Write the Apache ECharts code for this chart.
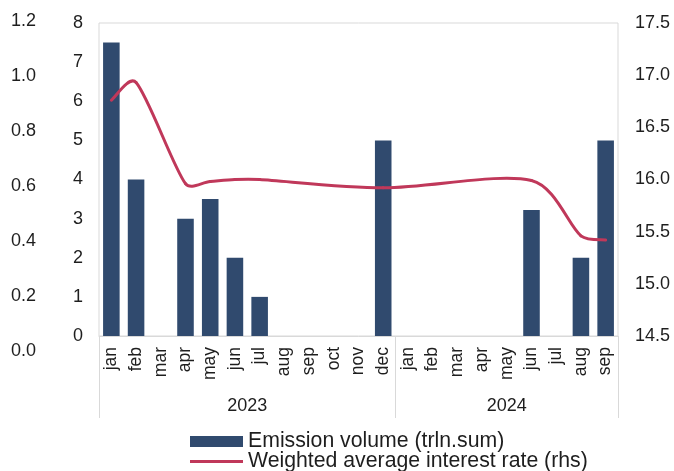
<!DOCTYPE html>
<html>
<head>
<meta charset="utf-8">
<title>Emission volume and weighted average interest rate</title>
<script src="https://cdn.jsdelivr.net/npm/echarts@6/dist/echarts.min.js"></script>
<style>
  html, body { margin: 0; padding: 0; background: #ffffff; }
  #chart { width: 674px; height: 471px; }
</style>
</head>
<body>
<div id="chart"></div>
<script>
// Months by year
const months2023 = ['jan', 'feb', 'mar', 'apr', 'may', 'jun', 'jul', 'aug', 'sep', 'oct', 'nov', 'dec'];
const months2024 = ['jan', 'feb', 'mar', 'apr', 'may', 'jun', 'jul', 'aug', 'sep'];
const years = ['2023', '2024'];

// Emission volume, trln. sum (left axis)
const emissionVolume = [7.5, 4.0, 0, 3.0, 3.5, 2.0, 1.0, 0, 0, 0, 0, 5.0,
                        0, 0, 0, 0, 0, 3.22, 0, 2.0, 5.0];

// Weighted average interest rate, % (right axis); null = no placement that month
const interestRate = [16.76, 16.93, null, 15.96, 15.98, 16.0, 16.0, null, null, null, null, 15.92,
                      null, null, null, null, null, 15.99, null, 15.46, 15.42];

// Tick values of the three value axes
const volumeTicks = { min: 0, max: 8, step: 1 };
const rateTicks = { min: 14.5, max: 17.5, step: 0.5 };
const shareTicks = { min: 0, max: 1.2, step: 0.2 };

const seriesNames = ['Emission volume (trln.sum)', 'Weighted average interest rate (rhs)'];

// Build category list and year groups
const yearMonths = [months2023, months2024];
const categories = [];
const yearOfIndex = [];
const yearGroups = [];
yearMonths.forEach((list, yi) => {
  yearGroups.push({ year: years[yi], start: categories.length, count: list.length });
  list.forEach(m => { categories.push(m); yearOfIndex.push(years[yi]); });
});
const groupStarts = yearGroups.map(g => g.start);

// Rate points that exist, as [categoryIndex, value]
const ratePoints = interestRate.map((v, i) => (v == null ? null : [i, v])).filter(p => p);

const textColor = '#1e1e1e';
const frameColor = '#d9d9d9';
const barColor = '#304a6e';
const lineColor = '#c0385a';
const fontFamily = '"Liberation Sans", Arial, Helvetica, sans-serif';
const gridLeft = 99, gridRight = 56;
const catWidth = (674 - gridLeft - gridRight) / categories.length;

// One legend row per series, stacked
const legendIcons = ['rect', 'path://M0,0H53V3H0Z'];
const legends = seriesNames.map((name, i) => ({
  orient: 'horizontal',
  left: 190,
  top: 431 + i * 20,
  padding: 0,
  itemWidth: 53,
  itemHeight: 11,
  selectedMode: false,
  textStyle: { fontSize: 21.25, lineHeight: 20, color: textColor, fontFamily: fontFamily },
  data: [{ name: name, icon: legendIcons[i] }]
}));

// Smoothed rate line: cubic Bezier segments through each point, with control
// arms of 1/6 of the neighbour span, capped at a third of the segment length.
function renderRateSegment(params, api) {
  const k = params.dataIndex;
  const n = ratePoints.length;
  if (k >= n - 1) return null;
  const P = j => api.coord(ratePoints[Math.max(0, Math.min(n - 1, j))]);
  const p0 = P(k - 1), p1 = P(k), p2 = P(k + 1), p3 = P(k + 2);
  const segLen = Math.hypot(p2[0] - p1[0], p2[1] - p1[1]);
  const arm = (a, b) => {
    let dx = (b[0] - a[0]) / 6, dy = (b[1] - a[1]) / 6;
    const len = Math.hypot(dx, dy), cap = segLen / 3;
    if (len > cap && len > 0) { dx *= cap / len; dy *= cap / len; }
    return [dx, dy];
  };
  const t1 = arm(p0, p2), t2 = arm(p1, p3);
  return {
    type: 'bezierCurve',
    shape: {
      x1: p1[0], y1: p1[1],
      cpx1: p1[0] + t1[0], cpy1: p1[1] + t1[1],
      cpx2: p2[0] - t2[0], cpy2: p2[1] - t2[1],
      x2: p2[0], y2: p2[1]
    },
    style: { stroke: lineColor, lineWidth: 3, fill: 'none', lineCap: 'round' }
  };
}

const chart = echarts.init(document.getElementById('chart'), null, { renderer: 'canvas' });

chart.setOption({
  animation: false,
  textStyle: { fontFamily: fontFamily, color: textColor },
  grid: [
    { left: gridLeft, right: gridRight, top: 23, bottom: 135, show: true,
      borderColor: frameColor, borderWidth: 1, backgroundColor: 'transparent' },
    { left: 52, width: 1, top: 21, bottom: 120, show: false }
  ],
  legend: legends,
  xAxis: [
    {
      type: 'category',
      gridIndex: 0,
      data: categories,
      boundaryGap: true,
      axisLine: { show: true, lineStyle: { color: frameColor, width: 1 } },
      axisTick: { show: false },
      axisLabel: { interval: 0, rotate: 90, margin: 11, fontSize: 17.5, color: textColor, fontFamily: fontFamily }
    },
    {
      type: 'category',
      gridIndex: 0,
      position: 'bottom',
      data: yearOfIndex,
      boundaryGap: true,
      axisLine: { show: false },
      axisTick: {
        show: true,
        length: 82,
        interval: (idx) => groupStarts.indexOf(idx) >= 0,
        lineStyle: { color: frameColor, width: 1 }
      },
      axisLabel: {
        interval: 0,
        margin: 61,
        fontSize: 18,
        color: textColor,
        fontFamily: fontFamily,
        formatter: (val, idx) => {
          for (const g of yearGroups) {
            const mid = g.start + Math.floor(g.count / 2);
            if (idx === mid) return (g.count % 2 === 0 ? '{even|' : '{odd|') + g.year + '}';
          }
          return '';
        },
        rich: {
          even: { fontSize: 18, color: textColor, fontFamily: fontFamily, padding: [0, catWidth, 0, 0] },
          odd: { fontSize: 18, color: textColor, fontFamily: fontFamily }
        }
      }
    },
    { type: 'category', gridIndex: 1, data: [''], show: false }
  ],
  yAxis: [
    {
      type: 'value',
      gridIndex: 0,
      position: 'left',
      min: volumeTicks.min, max: volumeTicks.max, interval: volumeTicks.step,
      splitLine: { show: false },
      axisLine: { show: false },
      axisTick: { show: false },
      axisLabel: { margin: 16, fontSize: 18, color: textColor, fontFamily: fontFamily }
    },
    {
      type: 'value',
      gridIndex: 0,
      position: 'right',
      min: rateTicks.min, max: rateTicks.max, interval: rateTicks.step,
      splitLine: { show: false },
      axisLine: { show: false },
      axisTick: { show: false },
      axisLabel: { margin: 17, fontSize: 18, color: textColor, fontFamily: fontFamily,
                   formatter: v => v.toFixed(1) }
    },
    {
      type: 'value',
      gridIndex: 1,
      position: 'left',
      min: shareTicks.min, max: shareTicks.max, interval: shareTicks.step,
      splitLine: { show: false },
      axisLine: { show: false },
      axisTick: { show: false },
      axisLabel: { margin: 16, fontSize: 18, color: textColor, fontFamily: fontFamily,
                   formatter: v => v.toFixed(1) }
    }
  ],
  series: [
    {
      name: seriesNames[0],
      type: 'bar',
      xAxisIndex: 0,
      yAxisIndex: 0,
      data: emissionVolume,
      barWidth: '67%',
      itemStyle: { color: barColor }
    },
    {
      name: seriesNames[1],
      type: 'custom',
      xAxisIndex: 0,
      yAxisIndex: 1,
      data: ratePoints,
      encode: { x: 0, y: 1 },
      renderItem: renderRateSegment,
      itemStyle: { color: lineColor },
      z: 3
    }
  ]
});
</script>
</body>
</html>
